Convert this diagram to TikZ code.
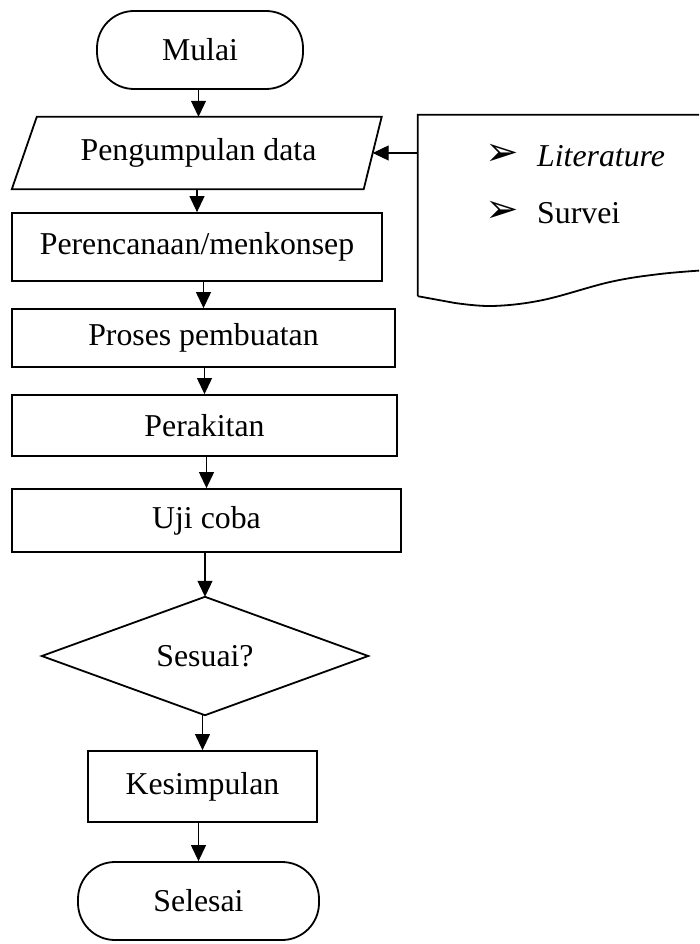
\documentclass[tikz,border=0pt]{standalone}
\usepackage{fontspec}
\setmainfont{Liberation Serif}
\newfontfamily\dejavu{DejaVu Sans}
\usetikzlibrary{arrows.meta}
\begin{document}
\begin{tikzpicture}[x=1pt,y=-1pt,
  every node/.style={font=\fontsize{31.8}{38}\selectfont, inner sep=0pt},
  box/.style={draw, line width=1.8pt, rectangle},
  term/.style={draw, line width=1.8pt, rounded corners=37pt},
  plain/.style={rectangle},
  outline/.style={line width=1.8pt, line join=miter},
  arr/.style={line width=1.1pt, -{Triangle[length=16pt,width=15pt]}},
  bul/.style={font=\dejavu\fontsize{40}{44}\selectfont},
]
\useasboundingbox (0,0) rectangle (699,944);
\clip (0,0) rectangle (699,944);

% flow nodes
\node[term, minimum width=206pt, minimum height=78pt] (mulai) at (200,50) {Mulai};
\node[plain, minimum width=348pt, minimum height=72pt] (peng) at (198.5,153) {Pengumpulan data};
\draw[outline] ([xshift=12.5pt]peng.north west) -- ([xshift=9pt]peng.north east)
  -- ([xshift=-9pt]peng.south east) -- ([xshift=-12.5pt]peng.south west) -- cycle;
\node[box, minimum width=370pt, minimum height=68pt] (perc) at (197,247) {Perencanaan/menkonsep};
\node[box, minimum width=383pt, minimum height=58pt] (proses) at (203.5,338) {Proses pembuatan};
\node[box, minimum width=385pt, minimum height=61pt] (perak) at (204.5,425.5) {Perakitan};
\node[box, minimum width=389pt, minimum height=63pt] (uji) at (206.5,520.5) {Uji coba};
\node[plain, minimum width=326pt, minimum height=118pt] (ses) at (205,656) {Sesuai?};
\draw[outline] (ses.north) -- (ses.east) -- (ses.south) -- (ses.west) -- cycle;
\node[box, minimum width=229pt, minimum height=71pt] (kes) at (202.5,786.5) {Kesimpulan};
\node[term, minimum width=241pt, minimum height=78pt] (sel) at (198.5,901) {Selesai};

% document
\node[plain, minimum width=290pt, minimum height=181pt] (doc) at (563,205.5) {};
\draw[outline] (doc.south west) -- (doc.north west) -- (doc.north east) -- (708,270)
  plot[smooth, tension=0.6] coordinates {(708,270) (660,274) (610,282) (543,300) (493,306) (455,303)}
  -- (doc.south west);
\node[bul] (b1) at (502,155) {➢};
\node[bul] (b2) at (502,212) {➢};
\node[anchor=base west] (lit) at (537,167) {\itshape Literature};
\node[anchor=base west] (sur) at (537,223) {Survei};

% connectors
\draw[arr] (mulai.south -| peng.north) -- (peng.north);
\draw[arr] (doc.west |- peng.east) -- (peng.east);
\draw[arr] (peng.south -| perc.north) -- (perc.north);
\draw[arr] (perc.south -| proses.north) -- (proses.north);
\draw[arr] (proses.south -| perak.north) -- (perak.north);
\draw[arr] (perak.south -| uji.north) -- (uji.north);
\draw[arr] (uji.south -| ses.north) -- (ses.north);
\draw[arr] (ses.south -| kes.north) -- (kes.north);
\draw[arr] (kes.south -| sel.north) -- (sel.north);
\end{tikzpicture}
\end{document}
